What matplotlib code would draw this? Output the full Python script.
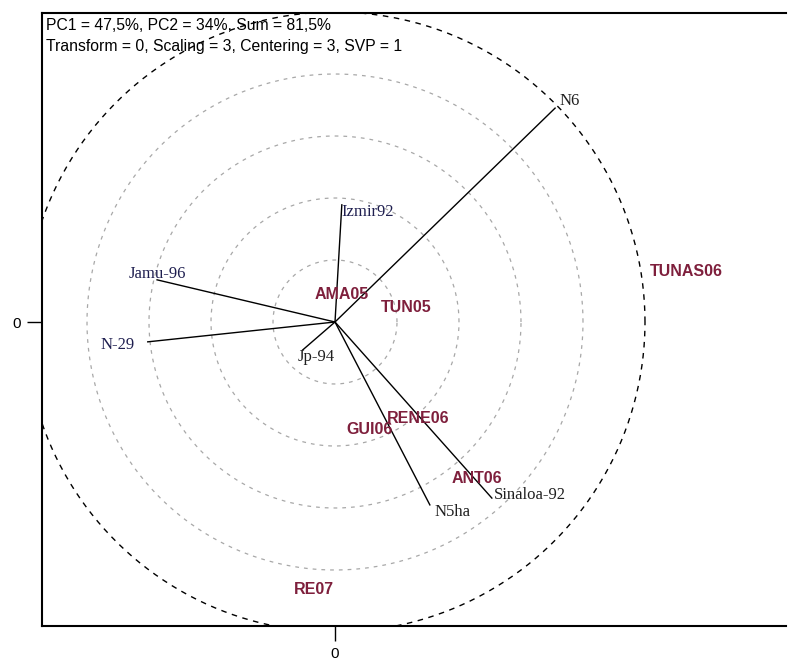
import numpy as np
import matplotlib.pyplot as plt

# Genotypes (vectors from the origin), biplot units
genotypes = ["N6", "Izmir92", "Jamu-96", "N-29", "Jp-94", "N5ha", "Sinaloa-92"]
gen_x = [3.55, 0.11, -2.87, -3.02, -0.52, 1.53, 2.53]
gen_y = [3.45, 1.89, 0.68, -0.32, -0.45, -2.95, -2.84]

# Environments (labels only)
environments = ["AMA05", "TUN05", "TUNAS06", "RENE06", "GUI06", "ANT06", "RE07"]
env_x = [0.11, 1.15, 5.66, 1.34, 0.56, 2.29, -0.34]
env_y = [0.44, 0.24, 0.82, -1.55, -1.73, -2.53, -4.32]

ring_radii = [1, 2, 3, 4, 5]

header = ["PC1 = 47,5%, PC2 = 34%, Sum = 81,5%",
          "Transform = 0, Scaling = 3, Centering = 3, SVP = 1"]

# label offsets in pixels (style only)
gen_offsets = [(15, 7), (26, -7), (0, 6), (-30, -3), (13, -7), (23, -7), (38, 3)]
gen_colors = ["#202020", "#1f1f50", "#1f1f50", "#1f1f50", "#202020", "#202020", "#202020"]
env_color = "#7e1f3c"

fig = plt.figure(figsize=(8.12, 6.65), dpi=100)
ax = fig.add_axes([42 / 812, 1 - 626 / 665, 744 / 812, 613 / 665])

# concentric circles
t = np.linspace(0, 2 * np.pi, 400)
for r in ring_radii:
    if r == ring_radii[-1]:
        ax.plot(r * np.cos(t), r * np.sin(t), color="black", lw=1.0,
                linestyle=(0, (4, 4)), zorder=1)
    else:
        ax.plot(r * np.cos(t), r * np.sin(t), color="#a8a8a8", lw=0.9,
                linestyle=(0, (3, 4)), zorder=1)

# genotype vectors
for name, x, y, off, c in zip(genotypes, gen_x, gen_y, gen_offsets, gen_colors):
    ax.plot([0, x], [0, y], color="black", lw=1.0, zorder=2)
    ax.annotate(name, (x, y), xytext=off, textcoords="offset pixels",
                ha="center", va="center", fontsize=12, color=c,
                family="Liberation Serif", zorder=3)

# environment labels
for name, x, y in zip(environments, env_x, env_y):
    ax.text(x, y, name, ha="center", va="center", fontsize=11.5,
            fontweight="bold", color=env_color, family="Liberation Sans",
            zorder=4)

# header
for i, line in enumerate(header):
    ax.text(4 / 744, 1 - (12 + 22 * i) / 613, line, transform=ax.transAxes,
            ha="left", va="center", fontsize=11.3, family="Liberation Sans")

ax.set_xlim(-293 / 62, 451 / 62)
ax.set_ylim(-304 / 62, 309 / 62)

ax.set_xticks([0])
ax.set_yticks([0])
ax.set_xticklabels(["0"])
ax.set_yticklabels(["0"])
ax.tick_params(length=11, width=1.0, labelsize=11, pad=4)
for lab in ax.get_xticklabels() + ax.get_yticklabels():
    lab.set_family("Liberation Sans")

for s in ["left", "top", "bottom"]:
    ax.spines[s].set_linewidth(1.5)
ax.spines["right"].set_visible(False)

fig.savefig("out.png", dpi=100)
